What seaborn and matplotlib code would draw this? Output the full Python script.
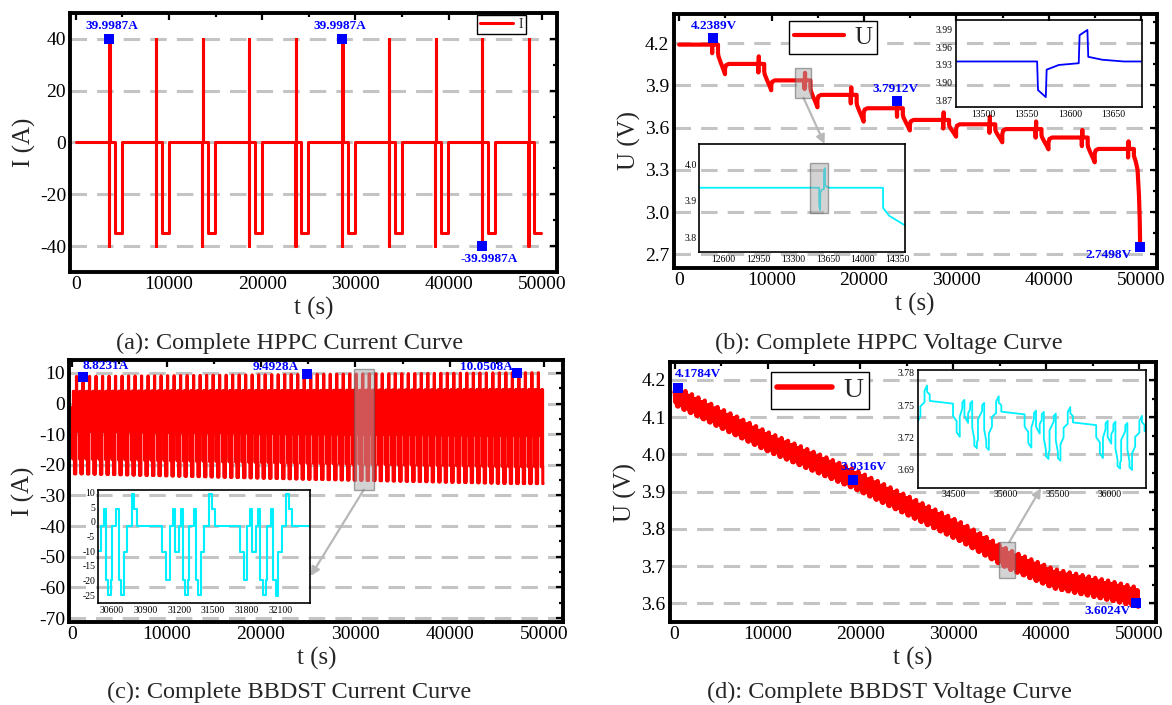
import numpy as np
import seaborn as sns
import matplotlib.pyplot as plt
from matplotlib.patches import Rectangle
from matplotlib.ticker import MultipleLocator, FormatStrFormatter

# ---------------- HPPC test (panels a and b) ----------------
hppc_pulse_t = [3562, 8562, 13562, 18562, 23562, 28562, 33562, 38562, 43562, 48562]
hppc_rest_v = [4.190, 4.053, 3.936, 3.833, 3.738, 3.655, 3.624, 3.590, 3.530, 3.449]
hppc_dis_min_v = [3.980, 3.866, 3.745, 3.643, 3.580, 3.536, 3.496, 3.446, 3.354]
hppc_end_t = 49880

# current of one pulse + discharge block (time relative to the pulse)
hppc_step_dt = [0, 10, 48, 58, 640, 1400]
hppc_step_i = [-40, 0, 40, 0, -35, 0]

# voltage shape
pulse_dt = [0, 1, 10, 11, 25, 48, 49, 58, 59, 75, 100]
pulse_dv = [0, -0.049, -0.061, -0.014, -0.006, -0.003, 0.045, 0.054, 0.008, 0.003, 0.0]
dis_dt = [640, 641, 700, 860, 950, 1150, 1400]
dis_frac = [0, 0.29, 0.40, 0.54, 0.62, 0.78, 1.0]
rec_dt = [1401, 1500, 1800]
rec_dv = [-0.035, -0.010, 0.0]
last_dis_t = [49202, 49203, 49400, 49600, 49750, 49830, 49880]
last_dis_v = [3.449, 3.400, 3.360, 3.300, 3.120, 2.950, 2.750]

hppc_i_mark_t = [3562, 28562, 43562]
hppc_i_mark_v = [39.9987, 39.9987, -39.9987]
hppc_v_mark_t = [3614, 23610, 49880]
hppc_v_mark_v = [4.2389, 3.7912, 2.7498]

# ---------------- BBDST test (panels c and d) ----------------
bbdst_i = [-1.5, -10.5, -20.5, -1.5, 4.5, -10.5, -1.5, 4.5, -20.5, -26.0,
           -20.5, -1.5, 4.5, -20.5, -26.0, -10.5, -1.5, 10.0, 4.5]
bbdst_s = [224, 35, 30, 25, 20, 35, 20, 20, 20, 25, 10, 40, 20, 20, 25, 30, 40, 25, 25]
bbdst_dv = [0.0, -0.013, -0.027, 0.0, 0.008, -0.013, 0.0, 0.008, -0.027, -0.035,
            -0.027, 0.0, 0.008, -0.027, -0.035, -0.013, 0.0, 0.016, 0.008]
bbdst_start = -181
bbdst_cycles = 73
bbdst_end_t = 49880
bbdst_peak_t = [1104, 24870, 47135]
bbdst_peak_i = [8.8231, 9.4928, 10.0508]
bbdst_ocv_t = [0, 10060, 19250, 30830, 35820, 40810, 46800, 49880]
bbdst_ocv_v = [4.168, 4.043, 3.944, 3.801, 3.729, 3.676, 3.644, 3.626]
bbdst_v_mark_t = [363, 19250, 49690]
bbdst_v_mark_v = [4.1784, 3.9316, 3.6024]

# ---------------- build the curves ----------------
t_i, i_i = [0], [0]
for p in hppc_pulse_t:
    for d, c in zip(hppc_step_dt, hppc_step_i):
        if p + d < hppc_end_t:
            t_i.append(p + d)
            i_i.append(c)
t_i.append(hppc_end_t)
i_i.append(i_i[-1])

t_v, v_v = [0], [hppc_rest_v[0]]
for k, p in enumerate(hppc_pulse_t):
    r = hppc_rest_v[k]
    t_v += [p + d for d in pulse_dt]
    v_v += [r + d for d in pulse_dv]
    if k < len(hppc_dis_min_v):
        m = hppc_dis_min_v[k]
        t_v += [p + d for d in dis_dt]
        v_v += [r - f * (r - m) for f in dis_frac]
        t_v += [p + d for d in rec_dt]
        v_v += [hppc_rest_v[k + 1] + d for d in rec_dv]
    else:
        t_v += last_dis_t
        v_v += last_dis_v
t_v, v_v = np.array(t_v), np.array(v_v)

dur = np.tile(bbdst_s, bbdst_cycles)
start = bbdst_start + np.concatenate([[0], np.cumsum(dur)[:-1]])
keep = start < bbdst_end_t
start = start[keep]
stop = np.minimum(start + dur[keep], bbdst_end_t)
start = np.maximum(start, 0)
scale = np.interp(start, bbdst_peak_t, bbdst_peak_i) / 10.0
cur = np.tile(bbdst_i, bbdst_cycles)[keep] * scale
dv = np.tile(bbdst_dv, bbdst_cycles)[keep]
volt = np.interp(start, bbdst_ocv_t, bbdst_ocv_v) + dv

t_c = np.append(start, stop[-1])
i_c = np.append(cur, cur[-1])

prev = np.concatenate([[volt[0]], volt[:-1]])
t_d = np.column_stack([start, stop]).ravel()
v_d = np.column_stack([prev + 0.7 * (volt - prev), volt]).ravel()

bbdst_i_mark_t = bbdst_peak_t
bbdst_i_mark_v = bbdst_peak_i


def window(t, lo, hi):
    idx = np.where((t >= lo) & (t <= hi))[0]
    return slice(max(idx[0] - 1, 0), min(idx[-1] + 2, len(t)))


# ---------------- style ----------------
sns.set_style("white")
plt.rcParams['font.family'] = ['Liberation Serif', 'DejaVu Serif']
plt.rcParams['axes.unicode_minus'] = False

RED = '#ff0000'
BLUE = '#0000ff'
CYAN = '#00f0ff'
GRID = '#c4c4c4'


def style_main(ax, xlim, ylim, yticks, yminor, yfmt, ylabel):
    ax.set_xlim(xlim)
    ax.set_ylim(ylim)
    ax.set_xticks(np.arange(0, 50001, 10000))
    ax.xaxis.set_minor_locator(MultipleLocator(5000))
    ax.set_yticks(yticks)
    ax.yaxis.set_minor_locator(MultipleLocator(yminor))
    ax.yaxis.set_major_formatter(FormatStrFormatter(yfmt))
    ax.tick_params(which='both', direction='in', top=True, right=True,
                   labelsize=14, pad=3, width=1.6, colors='black')
    ax.tick_params(which='major', length=5)
    ax.tick_params(which='minor', length=3)
    for s in ax.spines.values():
        s.set_linewidth(2.8)
        s.set_color('black')
    ax.set_axisbelow(True)
    ax.grid(False)
    ax.yaxis.grid(True, which='major', color=GRID, lw=2.2, ls=(0, (5.4, 3.3)))
    ax.set_xlabel('t (s)', fontsize=18, labelpad=3)
    ax.set_ylabel(ylabel, fontsize=18, labelpad=3)


def style_inset(ax, xlim, ylim, xticks, yticks, yfmt):
    ax.set_facecolor('none')
    ax.set_xlim(xlim)
    ax.set_ylim(ylim)
    ax.set_xticks(xticks)
    ax.set_yticks(yticks)
    ax.yaxis.set_major_formatter(FormatStrFormatter(yfmt))
    ax.tick_params(which='both', direction='in', labelsize=7, pad=2,
                   length=2.5, width=0.8, colors='black')
    for s in ax.spines.values():
        s.set_linewidth(1.2)
        s.set_color('black')
    ax.grid(False)
    ax.set_xlabel('')
    ax.set_ylabel('')


def marks(ax, xs, ys, offsets, fmt):
    sns.scatterplot(x=xs, y=ys, marker='s', s=44, color=BLUE, edgecolor=BLUE,
                    linewidth=0, zorder=6, ax=ax, legend=False)
    for x, y, (dx, dy, ha) in zip(xs, ys, offsets):
        ax.annotate(fmt.format(y), (x, y), xytext=(dx, dy), textcoords='offset pixels',
                    ha=ha, va='center', color=BLUE, fontsize=9.5, fontweight='bold',
                    zorder=7)


def zoom_box(ax, x0, x1, y0, y1):
    ax.add_patch(Rectangle((x0, y0), x1 - x0, y1 - y0, facecolor='#a8a8a8', alpha=0.5,
                           edgecolor='#505050', lw=1.0, zorder=5))


def legend(ax, anchor, loc, size, hl):
    lg = ax.legend(loc=loc, bbox_to_anchor=anchor, fontsize=size, frameon=True,
                   fancybox=False, edgecolor='black', framealpha=1, borderaxespad=0,
                   handlelength=hl, borderpad=0.2, handletextpad=0.4)
    lg.get_frame().set_linewidth(1.0)
    return lg


ARROW = dict(arrowstyle='-|>', color='#b8b8b8', lw=1.6, mutation_scale=13, shrinkA=0, shrinkB=0)

fig = plt.figure(figsize=(11.72, 7.05), dpi=100)

# ---------------- (a) HPPC current ----------------
ax_a = fig.add_axes([0.0600, 0.6142, 0.4150, 0.3674])
sns.lineplot(x=t_i, y=i_i, ax=ax_a, color=RED, lw=2.2, drawstyle='steps-post',
             estimator=None, sort=False, label='I')
style_main(ax_a, (-590, 51590), (-50, 50), [-40, -20, 0, 20, 40], 10, '%d', 'I (A)')
marks(ax_a, hppc_i_mark_t, hppc_i_mark_v,
      [(3, 13, 'center'), (-2, 13, 'center'), (7, -13, 'center')], '{:.4f}A')
legend(ax_a, (0.937, 0.992), 'upper right', 10, 2.4)

# ---------------- (b) HPPC voltage ----------------
ax_b = fig.add_axes([0.5747, 0.6199, 0.4124, 0.3603])
sns.lineplot(x=t_v, y=v_v, ax=ax_b, color=RED, lw=3.0, estimator=None, sort=False, label='U')
style_main(ax_b, (-606, 51688), (2.603, 4.408), [2.7, 3.0, 3.3, 3.6, 3.9, 4.2], 0.15, '%.1f', 'U (V)')
marks(ax_b, hppc_v_mark_t, hppc_v_mark_v,
      [(1, 12, 'center'), (-2, 12, 'center'), (-8, -8, 'right')], '{:.4f}V')
zoom_box(ax_b, 12566, 14217, 3.813, 4.022)
legend(ax_b, (0.2396, 0.972), 'upper left', 18, 2.0)

in_b1 = fig.add_axes([0.8154, 0.8482, 0.1590, 0.1234])
w = window(t_v, 13468, 13683)
sns.lineplot(x=t_v[w], y=v_v[w], ax=in_b1, color=BLUE, lw=1.3, estimator=None, sort=False,
             legend=False)
style_inset(in_b1, (13468, 13683), (3.858, 4.007), [13500, 13550, 13600, 13650],
            [3.87, 3.90, 3.93, 3.96, 3.99], '%.2f')

in_b2 = fig.add_axes([0.5968, 0.6426, 0.1752, 0.1532])
w = window(t_v, 12363, 14420)
sns.lineplot(x=t_v[w], y=v_v[w], ax=in_b2, color=CYAN, lw=1.3, estimator=None, sort=False,
             legend=False)
style_inset(in_b2, (12363, 14420), (3.76, 4.056), [12600, 12950, 13300, 13650, 14000, 14350],
            [3.8, 3.9, 4.0], '%.1f')
zoom_box(in_b2, 13471, 13655, 3.868, 4.003)
ax_b.annotate('', xy=(0.609, 1.0), xycoords=in_b2.transAxes, xytext=(13450, 3.813),
              textcoords='data', arrowprops=ARROW, zorder=4)

# ---------------- (c) BBDST current ----------------
ax_c = fig.add_axes([0.0593, 0.1177, 0.4211, 0.3716])
sns.lineplot(x=t_c, y=i_c, ax=ax_c, color=RED, lw=2.2, drawstyle='steps-post',
             estimator=None, sort=False, legend=False)
style_main(ax_c, (-276, 52000), (-71.3, 14.2), list(range(-70, 11, 10)), 5, '%d', 'I (A)')
marks(ax_c, bbdst_i_mark_t, bbdst_i_mark_v,
      [(0, 11, 'left'), (-8, 7, 'right'), (-4, 6, 'right')], '{:.4f}A')
zoom_box(ax_c, 29870, 31925, -28.1, 11.3)

in_c = fig.add_axes([0.0836, 0.1443, 0.1809, 0.1607])
w = window(t_c, 30474, 32363)
sns.lineplot(x=t_c[w], y=i_c[w], ax=in_c, color=CYAN, lw=1.5, drawstyle='steps-post',
             estimator=None, sort=False, legend=False)
style_inset(in_c, (30474, 32363), (-27.8, 10.9), [30600, 30900, 31200, 31500, 31800, 32100],
            [-25, -20, -15, -10, -5, 0, 5, 10], '%d')
ax_c.annotate('', xy=(1.003, 0.241), xycoords=in_c.transAxes, xytext=(30900, -28.1),
              textcoords='data', arrowprops=ARROW, zorder=4)

# ---------------- (d) BBDST voltage ----------------
ax_d = fig.add_axes([0.5715, 0.1177, 0.4148, 0.3688])
sns.lineplot(x=t_d, y=v_d, ax=ax_d, color=RED, lw=3.2, estimator=None, sort=False, label='U')
style_main(ax_d, (-516, 51797), (3.55, 4.248), [3.6, 3.7, 3.8, 3.9, 4.0, 4.1, 4.2], 0.05, '%.1f',
           'U (V)')
marks(ax_d, bbdst_v_mark_t, bbdst_v_mark_v,
      [(-3, 14, 'left'), (-13, 13, 'left'), (-6, -8, 'right')], '{:.4f}V')
zoom_box(ax_d, 34948, 36626, 3.668, 3.765)
lg = legend(ax_d, (0.2083, 0.9615), 'upper left', 20, 2.0)
for line in lg.get_lines():
    line.set_linewidth(4)

in_d = fig.add_axes([0.7830, 0.3082, 0.1948, 0.1670])
w = window(t_d, 34153, 36350)
sns.lineplot(x=t_d[w], y=v_d[w], ax=in_d, color=CYAN, lw=1.3, estimator=None, sort=False,
             legend=False)
style_inset(in_d, (34153, 36350), (3.6736, 3.7825), [34500, 35000, 35500, 36000],
            [3.69, 3.72, 3.75, 3.78], '%.2f')
ax_d.annotate('', xy=(0.54, -0.005), xycoords=in_d.transAxes, xytext=(36024, 3.765),
              textcoords='data', arrowprops=ARROW, zorder=4)

# ---------------- captions ----------------
fig.text(0.2468, 0.5135, '(a): Complete HPPC Current Curve', ha='center', va='center', fontsize=17.5)
fig.text(0.7587, 0.5135, '(b): Complete HPPC Voltage Curve', ha='center', va='center', fontsize=17.5)
fig.text(0.2468, 0.0184, '(c): Complete BBDST Current Curve', ha='center', va='center', fontsize=17.5)
fig.text(0.7590, 0.0184, '(d): Complete BBDST Voltage Curve', ha='center', va='center', fontsize=17.5)

fig.savefig('out.png', dpi=100)
